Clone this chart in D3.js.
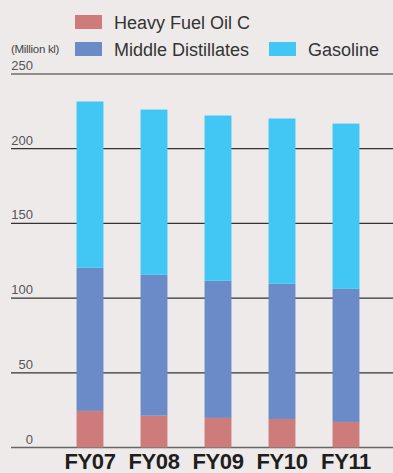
<!DOCTYPE html>
<html>
<head>
<meta charset="utf-8">
<script src="https://cdn.jsdelivr.net/npm/d3@7"></script>
<style>
  html, body { margin: 0; padding: 0; background: #eeeaea; }
  svg { display: block; }
</style>
</head>
<body>
<div id="chart"></div>
<script>
// Fuel sales volumes by fiscal year (million kl)
const years = ["FY07", "FY08", "FY09", "FY10", "FY11"];
const heavyFuelOilC = [24.5, 21.3, 19.8, 19.1, 17.1];
const middleDistillates = [95.8, 94.3, 91.8, 90.5, 89.1];
const gasoline = [111.3, 110.6, 110.6, 110.6, 110.6];
const yTicks = [0, 50, 100, 150, 200, 250];
const seriesNames = ["Heavy Fuel Oil C", "Middle Distillates", "Gasoline"];
const seriesColors = ["#cd7b7b", "#6b8bc8", "#42c6f4"];

const W = 393, H = 473;
const svg = d3.select("#chart").append("svg").attr("width", W).attr("height", H);
svg.append("rect").attr("width", W).attr("height", H).attr("fill", "#eeeaea");

const font = "'Liberation Sans', Arial, Helvetica, sans-serif";

const y = d3.scaleLinear().domain([0, 250]).range([447.5, 74]);
const x = d3.scaleBand().domain(years).range([58, 378]).paddingInner(0.58).paddingOuter(0.29);

// Gridlines and tick labels
const grid = svg.append("g");
yTicks.forEach(t => {
  grid.append("line")
    .attr("x1", 11).attr("x2", W)
    .attr("y1", y(t)).attr("y2", y(t))
    .attr("stroke", t === 0 ? "#666" : "#333")
    .attr("stroke-width", t === 0 ? 1.6 : 1.2);
  grid.append("text")
    .attr("x", 33).attr("y", y(t) - 4)
    .attr("text-anchor", "end")
    .attr("font-family", font).attr("font-size", 13)
    .attr("fill", "#555")
    .text(t);
});

// Stacked bars
const rows = years.map((yr, i) => ({
  year: yr,
  "Heavy Fuel Oil C": heavyFuelOilC[i],
  "Middle Distillates": middleDistillates[i],
  "Gasoline": gasoline[i]
}));
const stacked = d3.stack().keys(seriesNames)(rows);

svg.append("g").selectAll("g")
  .data(stacked).join("g")
  .attr("fill", (d, i) => seriesColors[i])
  .selectAll("rect")
  .data(d => d).join("rect")
  .attr("x", d => x(d.data.year))
  .attr("width", x.bandwidth())
  .attr("y", d => y(d[1]))
  .attr("height", d => y(d[0]) - y(d[1]));

// Category labels
svg.append("g").selectAll("text")
  .data(years).join("text")
  .attr("x", d => x(d) + x.bandwidth() / 2)
  .attr("y", 469)
  .attr("text-anchor", "middle")
  .attr("font-family", font).attr("font-weight", "bold")
  .attr("font-size", 22).attr("letter-spacing", -0.4)
  .attr("fill", "#1e1e1e")
  .text(d => d);

// Unit label
svg.append("text")
  .attr("x", 11).attr("y", 53)
  .attr("font-family", font).attr("font-size", 11.5)
  .attr("fill", "#444").attr("letter-spacing", -0.3)
  .text("(Million kl)");

// Legend
const legendItems = [
  { name: seriesNames[0], color: seriesColors[0], sx: 75, sy: 15 },
  { name: seriesNames[1], color: seriesColors[1], sx: 75, sy: 42 },
  { name: seriesNames[2], color: seriesColors[2], sx: 269, sy: 42 }
];
const legend = svg.append("g");
legendItems.forEach(it => {
  legend.append("rect")
    .attr("x", it.sx).attr("y", it.sy)
    .attr("width", 27).attr("height", 14)
    .attr("fill", it.color);
  legend.append("text")
    .attr("x", it.sx + 39).attr("y", it.sy + 13.5)
    .attr("font-family", font).attr("font-size", 18)
    .attr("fill", "#333")
    .text(it.name);
});
</script>
</body>
</html>
